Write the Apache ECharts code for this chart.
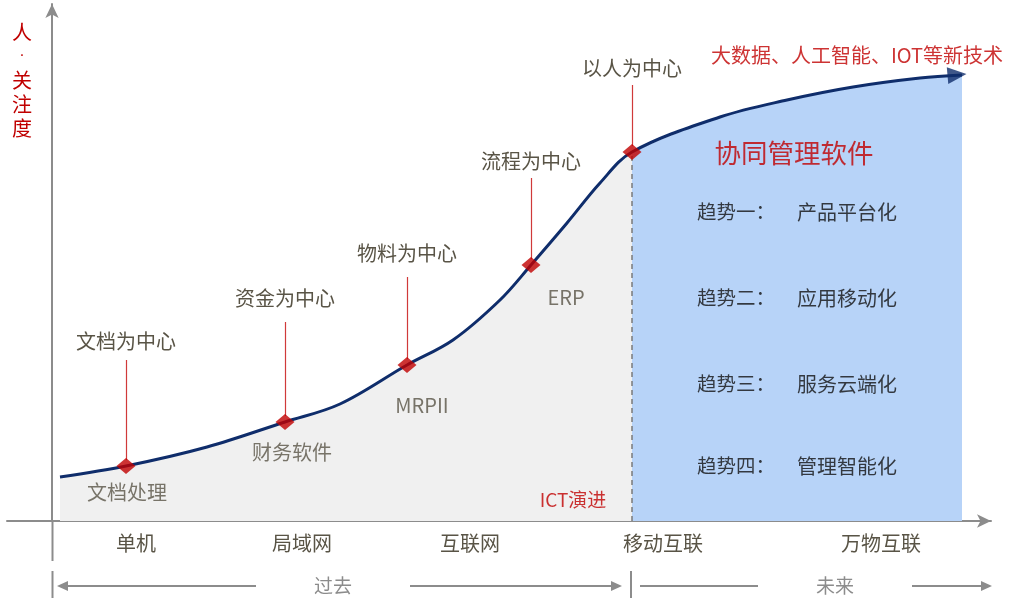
<!DOCTYPE html>
<html>
<head>
<meta charset="utf-8">
<script src="https://cdn.jsdelivr.net/npm/echarts@6/dist/echarts.min.js"></script>
<style>html,body{margin:0;padding:0;background:#fff}#c{width:1009px;height:598px}</style>
</head>
<body>
<div id="c"></div>
<script>
// ---- data ----
var categories = ['单机', '局域网', '互联网', '移动互联', '万物互联'];
var categoryX = [8.4, 25.0, 41.8, 61.1, 82.9];
var curveX = [0.8, 7.4, 15.5, 23.3, 28.8, 35.5, 40.1, 44.8, 47.9, 51.5, 54.8, 58.0, 66.8, 73.5, 80.1, 86.8, 91.0];
var curveY = [4.4, 5.5, 7.4, 9.9, 11.7, 15.6, 18.1, 22.1, 25.6, 29.8, 33.8, 36.9, 40.4, 42.1, 43.4, 44.3, 44.6];
var milestoneNames = ['文档为中心', '资金为中心', '物料为中心', '流程为中心', '以人为中心'];
var milestoneX = [7.4, 23.3, 35.5, 47.9, 58.0];
var milestoneY = [5.5, 9.9, 15.6, 25.6, 36.9];
var stemTopY = [16.1, 19.9, 24.4, 34.3, 43.6];
var stageNames = ['文档处理', '财务软件', 'MRPII', 'ERP'];
var stageX = [7.5, 24.0, 37.0, 51.4];
var stageY = [2.9, 6.9, 11.6, 22.4];
var trendNames = ['趋势一：', '趋势二：', '趋势三：', '趋势四：'];
var trendItems = ['产品平台化', '应用移动化', '服务云端化', '管理智能化'];
var trendY = [30.9, 22.3, 13.7, 5.5];
var splitX = 58.0;

var FONT = '"Noto Sans CJK SC", "Noto Sans", sans-serif';
var GRAYTXT = '#595446';
var RED = '#c00000';

var curve = curveX.map(function (x, i) { return [x, curveY[i]]; });
var grayPart = curve.filter(function (p) { return p[0] <= splitX; });
var bluePart = curve.filter(function (p) { return p[0] >= splitX; });
var splitY = curveY[curveX.indexOf(splitX)];

var chart = echarts.init(document.getElementById('c'));

var stemLabelGap = [9, 14, 14, 7, 7];
var stems = milestoneX.map(function (x, i) {
  return [
    { coord: [x, milestoneY[i] + 0.6], label: { formatter: milestoneNames[i], distance: stemLabelGap[i] } },
    { coord: [x, stemTopY[i]] }
  ];
});

var textSeriesData = [];
stageNames.forEach(function (n, i) {
  textSeriesData.push({ value: [stageX[i], stageY[i]], name: n,
    label: { color: GRAYTXT, fontSize: 20 } });
});
textSeriesData.push({ value: [52.1, 2.1], name: 'ICT演进', label: { color: RED, fontSize: 19 } });
textSeriesData.push({ value: [74.2, 36.8], name: '协同管理软件', label: { color: RED, fontSize: 26.5 } });
textSeriesData.push({ value: [80.5, 46.6], name: '大数据、人工智能、IOT等新技术', label: { color: RED, fontSize: 20 } });
trendNames.forEach(function (n, i) {
  textSeriesData.push({ value: [64.5, trendY[i]], name: n, label: { color: '#111', fontSize: 19.5, align: 'left' } });
  textSeriesData.push({ value: [74.5, trendY[i]], name: trendItems[i], label: { color: '#111', fontSize: 20, align: 'left' } });
});

var axisGray = '#8c8c8c';

chart.setOption({
  animation: false,
  backgroundColor: '#fff',
  grid: { left: 7, right: 18, top: 4, bottom: 77, containLabel: false },
  xAxis: {
    type: 'value', min: -4.5, max: 93.9,
    axisLine: { onZero: false, lineStyle: { color: axisGray, width: 2 }, symbol: ['none', 'arrow'], symbolSize: [10, 14] },
    axisTick: { show: false },
    splitLine: { show: false },
    axisLabel: {
      customValues: categoryX,
      margin: 12,
      color: GRAYTXT, fontSize: 20, fontFamily: FONT,
      formatter: function (v) {
        for (var i = 0; i < categoryX.length; i++) { if (Math.abs(categoryX[i] - v) < 0.01) return categories[i]; }
        return '';
      }
    }
  },
  yAxis: {
    type: 'value', min: 0, max: 51.7,
    axisLine: { onZero: true, lineStyle: { color: axisGray, width: 2 }, symbol: ['none', 'arrow'], symbolSize: [10, 14] },
    axisTick: { show: false },
    splitLine: { show: false },
    axisLabel: { show: false }
  },
  series: [
    {
      type: 'line', data: grayPart, smooth: 0.35, symbol: 'none',
      lineStyle: { width: 0 }, areaStyle: { color: '#f0f0f0', opacity: 1 }, z: 1, silent: true
    },
    {
      type: 'line', data: bluePart, smooth: 0.35, symbol: 'none',
      lineStyle: { width: 0 }, areaStyle: { color: '#b7d3f8', opacity: 1 }, z: 1, silent: true,
      markLine: {
        silent: true, symbol: 'none',
        lineStyle: { color: '#7a7a7a', type: [5, 4], width: 1.5 },
        label: { show: false },
        data: [[{ coord: [splitX, 0] }, { coord: [splitX, splitY] }]]
      }
    },
    {
      type: 'line', data: curve, smooth: 0.35, symbol: 'none',
      lineStyle: { color: '#0f2d6b', width: 3 }, z: 3
    },
    {
      type: 'scatter', data: [[90.5, 44.62]], symbol: 'triangle', symbolSize: [17, 19], symbolRotate: -85,
      itemStyle: { color: '#0f2d6b' }, z: 4
    },
    {
      type: 'scatter', z: 5,
      data: milestoneX.map(function (x, i) { return [x, milestoneY[i]]; }),
      symbol: 'diamond', symbolSize: [19, 16],
      itemStyle: { color: RED },
      markLine: {
        silent: true, symbol: 'none',
        lineStyle: { color: '#d03a3a', width: 1.2, type: 'solid' },
        label: { show: true, position: 'end', distance: 6, color: GRAYTXT, fontSize: 20, fontFamily: FONT },
        data: stems
      }
    },
    {
      type: 'scatter', z: 6, symbolSize: 0, silent: true,
      data: textSeriesData,
      label: { show: true, position: 'inside', formatter: '{b}', fontFamily: FONT, align: 'center', verticalAlign: 'middle' }
    }
  ],
  graphic: [
    { type: 'text', x: 22, y: 20, style: { text: '{c|人}\n{d|·}\n{c|关}\n{c|注}\n{c|度}', fill: RED, align: 'center',
      rich: {
        c: { fontSize: 20, fontFamily: FONT, lineHeight: 24, fill: RED, color: RED },
        d: { fontSize: 14, fontFamily: '"DejaVu Sans", sans-serif', lineHeight: 24, fill: RED, color: RED }
      } } },
    { type: 'line', shape: { x1: 52.5, y1: 521, x2: 52.5, y2: 561 }, style: { stroke: axisGray, lineWidth: 2 } },
    { type: 'line', shape: { x1: 52.5, y1: 571, x2: 52.5, y2: 598 }, style: { stroke: axisGray, lineWidth: 2 } },
    { type: 'line', shape: { x1: 62, y1: 586, x2: 256, y2: 586 }, style: { stroke: axisGray, lineWidth: 2 } },
    { type: 'polygon', shape: { points: [[57, 586], [68, 581], [68, 591]] }, style: { fill: axisGray } },
    { type: 'text', x: 333, y: 586, style: { text: '过去', fill: '#8c8c8c', fontSize: 19, fontFamily: FONT, align: 'center', verticalAlign: 'middle' } },
    { type: 'line', shape: { x1: 410, y1: 586, x2: 615, y2: 586 }, style: { stroke: axisGray, lineWidth: 2 } },
    { type: 'polygon', shape: { points: [[622, 586], [611, 581], [611, 591]] }, style: { fill: axisGray } },
    { type: 'line', shape: { x1: 631, y1: 571, x2: 631, y2: 598 }, style: { stroke: axisGray, lineWidth: 2 } },
    { type: 'line', shape: { x1: 640, y1: 586, x2: 758, y2: 586 }, style: { stroke: axisGray, lineWidth: 2 } },
    { type: 'text', x: 835, y: 586, style: { text: '未来', fill: '#8c8c8c', fontSize: 19, fontFamily: FONT, align: 'center', verticalAlign: 'middle' } },
    { type: 'line', shape: { x1: 912, y1: 586, x2: 985, y2: 586 }, style: { stroke: axisGray, lineWidth: 2 } },
    { type: 'polygon', shape: { points: [[992, 586], [981, 581], [981, 591]] }, style: { fill: axisGray } }
  ]
});
</script>
</body>
</html>
